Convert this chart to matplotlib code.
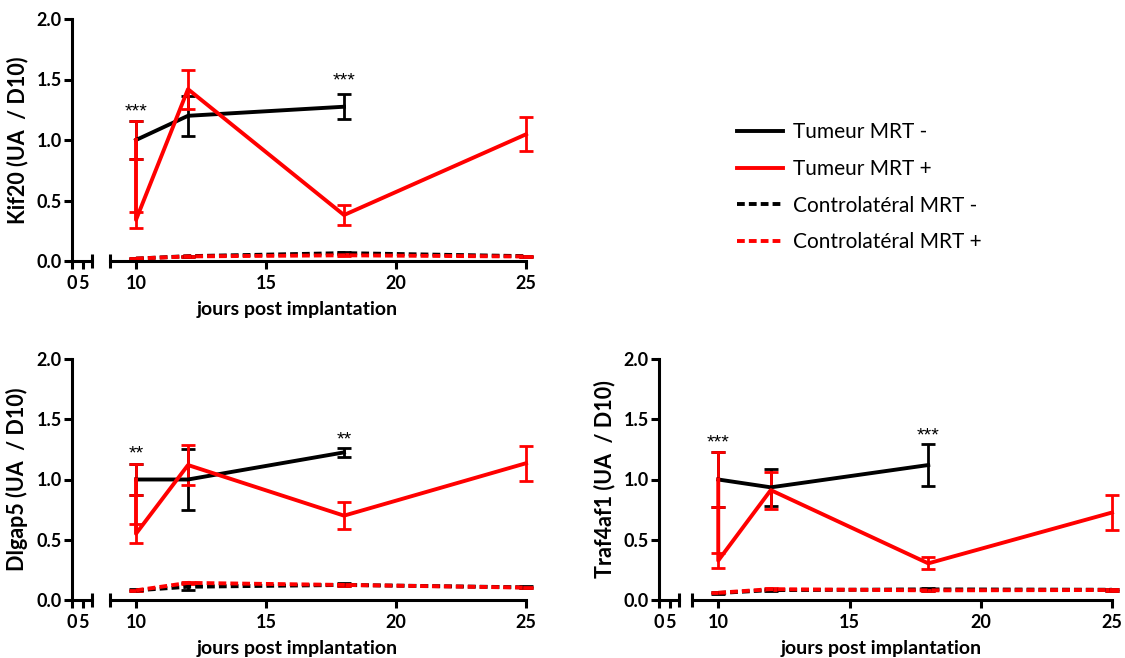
import matplotlib
matplotlib.use("Agg")
import matplotlib.pyplot as plt
from matplotlib.lines import Line2D

W, H = 1125, 658

# ---- data -------------------------------------------------------------
genes = ["Kif20", "Dlgap5", "Traf4af1"]

# Tumeur MRT - (days 10, 12, 18)
days_tm_minus = [10, 12, 18]
kif20_tm_minus = [1.00, 1.20, 1.275]
kif20_tm_minus_sem = [0.155, 0.165, 0.105]
dlgap5_tm_minus = [1.00, 1.00, 1.225]
dlgap5_tm_minus_sem = [0.125, 0.255, 0.04]
traf_tm_minus = [1.00, 0.935, 1.12]
traf_tm_minus_sem = [0.228, 0.155, 0.174]

# Tumeur MRT + (reference at day 10, then days 10, 12, 18, 25)
days_tm_plus = [10, 10, 12, 18, 25]
kif20_tm_plus = [1.00, 0.34, 1.42, 0.38, 1.047]
kif20_tm_plus_sem = [0.155, 0.064, 0.16, 0.08, 0.14]
dlgap5_tm_plus = [1.00, 0.55, 1.12, 0.70, 1.135]
dlgap5_tm_plus_sem = [0.125, 0.08, 0.165, 0.11, 0.145]
traf_tm_plus = [1.00, 0.327, 0.912, 0.304, 0.726]
traf_tm_plus_sem = [0.228, 0.062, 0.153, 0.05, 0.148]

# Controlatéral MRT - / MRT + (days 10, 12, 18, 25)
days_contro = [10, 12, 18, 25]
kif20_co_minus = [0.02, 0.04, 0.065, 0.04]
kif20_co_minus_sem = [0.005, 0.005, 0.01, 0.005]
kif20_co_plus = [0.02, 0.038, 0.047, 0.037]
kif20_co_plus_sem = [0.005, 0.005, 0.008, 0.005]
dlgap5_co_minus = [0.08, 0.11, 0.125, 0.105]
dlgap5_co_minus_sem = [0.008, 0.028, 0.012, 0.008]
dlgap5_co_plus = [0.08, 0.142, 0.125, 0.103]
dlgap5_co_plus_sem = [0.005, 0.01, 0.008, 0.005]
traf_co_minus = [0.058, 0.082, 0.088, 0.085]
traf_co_minus_sem = [0.008, 0.01, 0.01, 0.008]
traf_co_plus = [0.06, 0.09, 0.08, 0.083]
traf_co_plus_sem = [0.005, 0.006, 0.006, 0.005]

# significance marks: (day, height, text)
kif20_stars = [(10, 1.23, "***"), (18, 1.49, "***")]
dlgap5_stars = [(10, 1.21, "**"), (18, 1.33, "**")]
traf_stars = [(10, 1.30, "***"), (18, 1.36, "***")]

legend_labels = ["Tumeur MRT -", "Tumeur MRT +",
                 "Controlatéral MRT -", "Controlatéral MRT +"]
x_label = "jours post implantation"
y_labels = ["Kif20 (UA  / D10)", "Dlgap5 (UA  / D10)", "Traf4af1 (UA  / D10)"]
y_ticks = [0.0, 0.5, 1.0, 1.5, 2.0]

# ---- style --------------------------------------------------------------
LBL = "Lato"
RED = "#ff0000"
LW_AX = 2.2
LW_LINE = 2.8
DASH = (0, (2.0, 1.05))
TICK_FS = 13
SEG_W = 20  # width in px of the compressed 0-9 segment

fig = plt.figure(figsize=(W / 100, H / 100), dpi=100)


def frac(x0, x1, ytop, ybot):
    return [x0 / W, 1 - ybot / H, (x1 - x0) / W, (ybot - ytop) / H]


def panel(spine_x, right_x0, right_x1, ytop, ybot, series, stars, ylabel):
    axL = fig.add_axes(frac(spine_x, spine_x + SEG_W, ytop, ybot))
    axR = fig.add_axes(frac(right_x0, right_x1, ytop, ybot))
    axL.set_xlim(0, 9)
    axR.set_xlim(9, 25)
    for ax in (axL, axR):
        ax.set_ylim(0, 2)
        ax.patch.set_alpha(0)
        for s in ("top", "right"):
            ax.spines[s].set_visible(False)
        ax.spines["bottom"].set_linewidth(LW_AX)
        ax.spines["left"].set_linewidth(LW_AX)
        ax.tick_params(direction="out", length=5.8, width=LW_AX, pad=4)
    axR.spines["left"].set_visible(False)
    axR.tick_params(axis="y", left=False, labelleft=False)
    tfont = dict(fontfamily=LBL, fontweight="bold", fontsize=TICK_FS)
    axL.set_xticks([0, 5])
    axL.set_xticklabels(["0", "5"], **tfont)
    axR.set_xticks([10, 15, 20, 25])
    axR.set_xticklabels(["10", "15", "20", "25"], **tfont)
    axL.set_yticks(y_ticks)
    axL.set_yticklabels([f"{v:.1f}" for v in y_ticks], **tfont)
    axL.tick_params(axis="y", pad=1.5)

    # axis break bars
    axL.plot([1], [0], marker="|", markersize=10, mew=LW_AX, color="black",
             transform=axL.transAxes, clip_on=False)
    axR.plot([0], [0], marker="|", markersize=10, mew=LW_AX, color="black",
             transform=axR.transAxes, clip_on=False)

    for x, y, e, color, ls in series:
        axR.errorbar(x, y, yerr=e, color=color, lw=LW_LINE, linestyle=ls,
                     elinewidth=2.0, capsize=4.8, capthick=2.0, clip_on=False,
                     dash_capstyle="butt")
    for x, y, t in stars:
        axR.text(x, y, t, ha="center", va="center", fontsize=14,
                 fontfamily="Liberation Sans")

    axR.set_xlabel(x_label, fontfamily=LBL, fontweight="bold", fontsize=14)
    axR.xaxis.set_label_coords(0.45, -0.165)
    axL.set_ylabel(ylabel, fontfamily=LBL, fontweight="bold", fontsize=15.5)
    # y label sits 44 px left of the y axis
    axL.yaxis.set_label_coords(-44 / SEG_W, 0.5)
    return axL, axR


series_sets = [
    [(days_tm_minus, kif20_tm_minus, kif20_tm_minus_sem, "black", "-"),
     (days_tm_plus, kif20_tm_plus, kif20_tm_plus_sem, RED, "-"),
     (days_contro, kif20_co_minus, kif20_co_minus_sem, "black", DASH),
     (days_contro, kif20_co_plus, kif20_co_plus_sem, RED, DASH)],
    [(days_tm_minus, dlgap5_tm_minus, dlgap5_tm_minus_sem, "black", "-"),
     (days_tm_plus, dlgap5_tm_plus, dlgap5_tm_plus_sem, RED, "-"),
     (days_contro, dlgap5_co_minus, dlgap5_co_minus_sem, "black", DASH),
     (days_contro, dlgap5_co_plus, dlgap5_co_plus_sem, RED, DASH)],
    [(days_tm_minus, traf_tm_minus, traf_tm_minus_sem, "black", "-"),
     (days_tm_plus, traf_tm_plus, traf_tm_plus_sem, RED, "-"),
     (days_contro, traf_co_minus, traf_co_minus_sem, "black", DASH),
     (days_contro, traf_co_plus, traf_co_plus_sem, RED, DASH)],
]
star_sets = [kif20_stars, dlgap5_stars, traf_stars]

layout = [
    (72, 110, 526, 19, 261),
    (72, 110, 526, 359, 600),
    (659, 692, 1112, 359, 600),
]

for (sx, rx0, rx1, yt, yb), ser, st, yl in zip(layout, series_sets,
                                               star_sets, y_labels):
    panel(sx, rx0, rx1, yt, yb, ser, st, yl)

handles = [
    Line2D([], [], color="black", lw=LW_LINE),
    Line2D([], [], color=RED, lw=LW_LINE),
    Line2D([], [], color="black", lw=LW_LINE, linestyle=DASH),
    Line2D([], [], color=RED, lw=LW_LINE, linestyle=DASH),
]
fig.legend(handles, legend_labels, loc="upper left",
           bbox_to_anchor=(727 / W, 1 - 112 / H), frameon=False,
           prop={"family": LBL, "size": 15}, handlelength=2.2,
           handletextpad=0.45, labelspacing=0.8, borderpad=0)

fig.savefig("out.png", dpi=100)
